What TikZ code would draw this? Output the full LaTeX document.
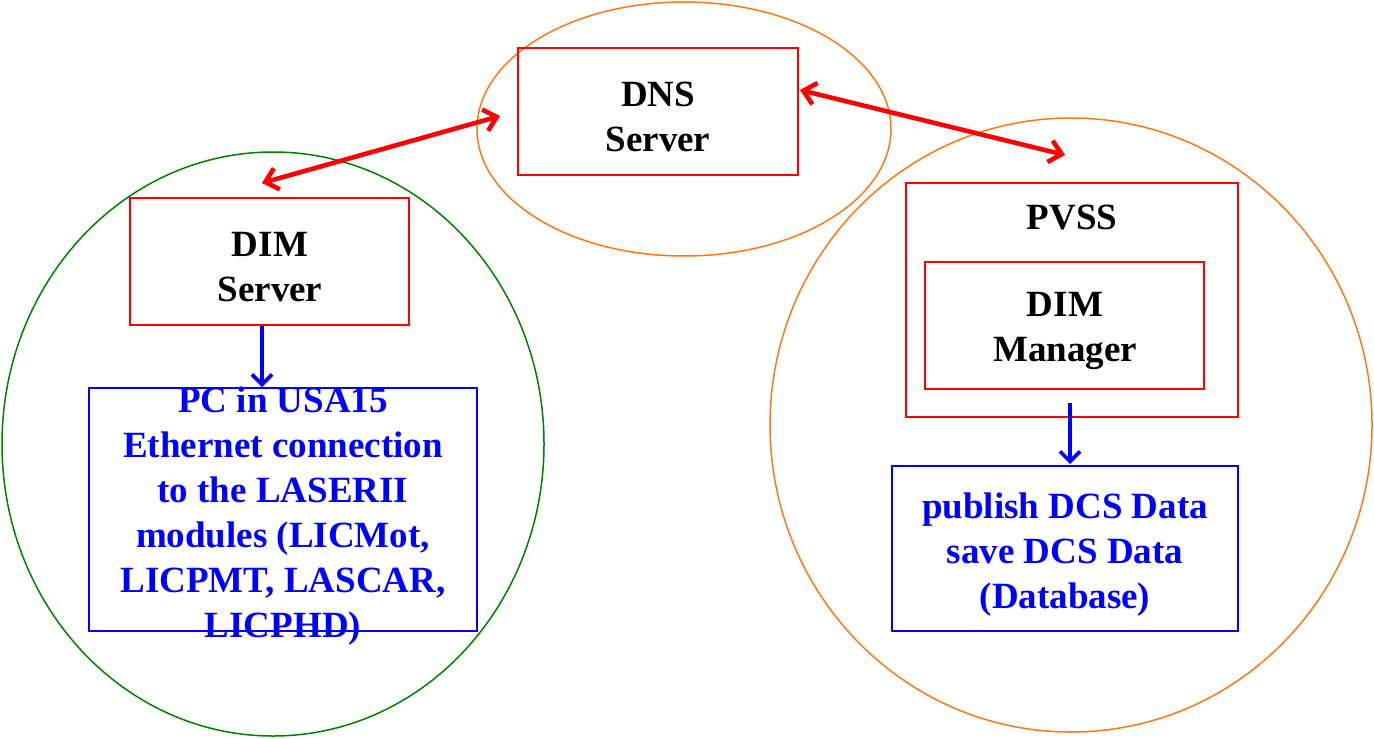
\documentclass[tikz,border=0pt]{standalone}
\usepackage{fontspec}
\setmainfont{Liberation Serif}
\usetikzlibrary{arrows.meta}
\definecolor{ringorange}{RGB}{255,120,20}
\definecolor{ringgreen}{RGB}{0,128,0}
\tikzset{
  redbox/.style={draw=red, line width=0.75pt, rectangle, inner sep=0pt},
  bluebox/.style={draw=blue, line width=0.75pt, rectangle, inner sep=0pt},
  lbl/.style={font=\fontsize{18.5pt}{22.5pt}\selectfont\bfseries, align=center, inner sep=0pt},
  redarrow/.style={draw=red, line width=2.3pt, {Straight Barb[length=6pt,width=11pt]}-{Straight Barb[length=6pt,width=11pt]}},
  bluearrow/.style={draw=blue, line width=1.8pt, -{Straight Barb[length=5pt,width=10pt]}},
  ring/.style={line width=0.75pt}
}
\begin{document}
\begin{tikzpicture}[x=0.5pt,y=-0.5pt]
\useasboundingbox (0,0) rectangle (1374,738);
% rings
\draw[ring, ringgreen] (273,444) ellipse [x radius=135.5pt, y radius=146pt];
\draw[ring, ringorange] (684,129) ellipse [x radius=103.5pt, y radius=63.5pt];
\draw[ring, ringorange] (1071,425) ellipse [x radius=150.5pt, y radius=153.5pt];
% boxes
\node[redbox, minimum width=140pt, minimum height=63.5pt] (dns) at (658,111.5) {};
\node[lbl] (dnst) at (658,117) {DNS\\Server};
\node[redbox, minimum width=139.5pt, minimum height=63.5pt] (dims) at (269.5,261.5) {};
\node[lbl] (dimst) at (270,267) {DIM\\Server};
\node[bluebox, minimum width=194pt, minimum height=121.5pt] (pc) at (283,509.5) {};
\node[lbl, text=blue] (pct) at (283,516) {PC in USA15\\Ethernet connection\\to the LASERII\\modules (LICMot,\\LICPMT, LASCAR,\\LICPHD)};
\node[redbox, minimum width=166pt, minimum height=117pt] (pvss) at (1072,300) {};
\node[lbl] (pvsst) at (1072,218) {PVSS};
\node[redbox, minimum width=139.5pt, minimum height=63.5pt] (dimm) at (1064.5,325.5) {};
\node[lbl] (dimmt) at (1065,331) {DIM\\Manager};
\node[bluebox, minimum width=173pt, minimum height=82.5pt] (pub) at (1065,548.5) {};
\node[lbl, text=blue] (pubt) at (1065,555) {publish DCS Data\\save DCS Data\\(Database)};
% connector end points
\coordinate (a1) at (262,183);
\coordinate (a2) at (500,116);
\coordinate (b1) at (800,90);
\coordinate (b2) at (1065,155);
\coordinate (c1) at (262,326);
\coordinate (c2) at (262,387);
\coordinate (d1) at (1070,403);
\coordinate (d2) at (1070,464);
% connectors
\draw[redarrow] (a1) -- (a2);
\draw[redarrow] (b1) -- (b2);
\draw[bluearrow] (c1) -- (c2);
\draw[bluearrow] (d1) -- (d2);
\end{tikzpicture}
\end{document}
